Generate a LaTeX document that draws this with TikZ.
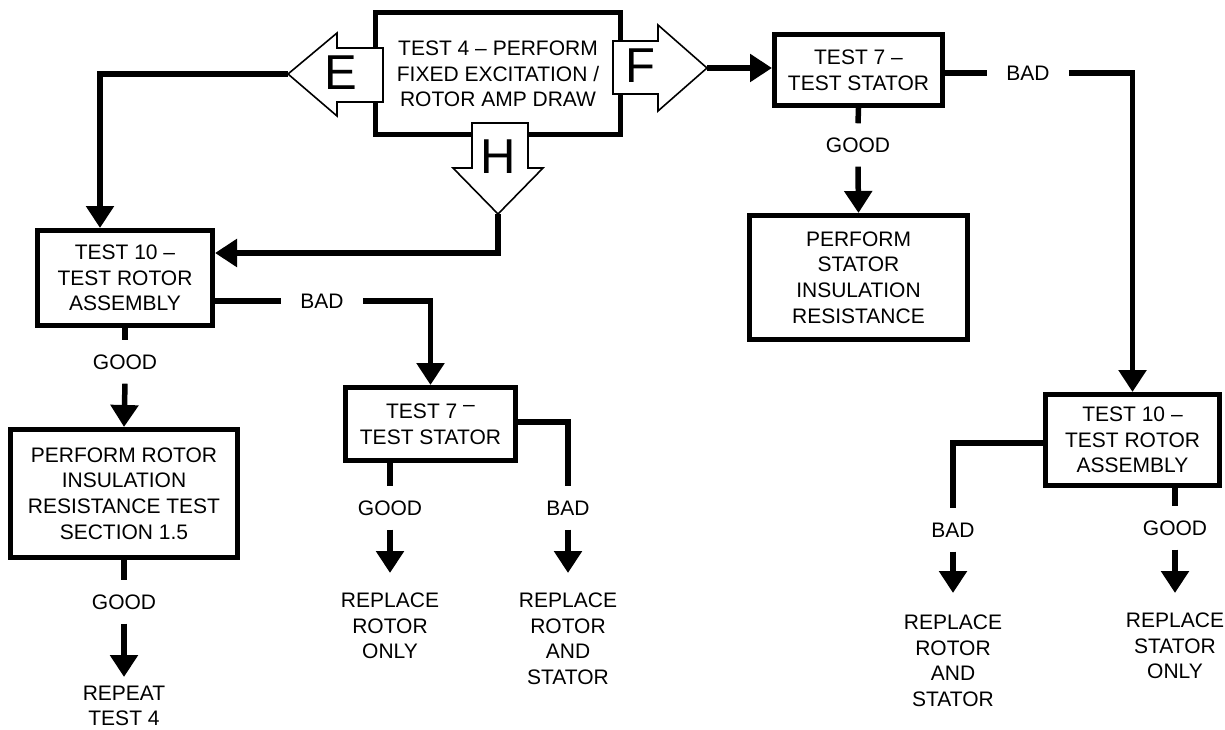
\documentclass[tikz,border=0pt]{standalone}
\usepackage{fontspec}
\setmainfont{Liberation Sans}
\usetikzlibrary{arrows.meta}
\tikzset{
  every node/.style={font=\fontsize{21}{25.7}\selectfont},
  box/.style={draw, line width=5pt, fill=white, align=center, inner sep=0pt},
  conn/.style={line width=5.5pt, line join=miter},
  arr/.style={conn, -{Triangle[width=27pt,length=22pt]}},
  lbl/.style={inner xsep=19pt, inner ysep=14pt, text height=15pt, text depth=0pt},
  res/.style={align=center, inner xsep=0pt, anchor=north},
  bigarrow/.style={draw, line width=1.6pt, fill=white, line join=miter},
  bigletter/.style={font=\fontsize{49}{49}\selectfont, inner sep=0pt},
}
\begin{document}
\begin{tikzpicture}[x=1pt,y=-1pt]
\useasboundingbox[fill=white] (0,0) rectangle (1225,730);
% boxes
\node[box, minimum width=245pt, minimum height=122pt] (t4) at (498,74) {TEST 4 – PERFORM\\FIXED EXCITATION /\\ROTOR AMP DRAW};
\node[box, minimum width=175pt, minimum height=95pt] (t10L) at (125,278) {TEST 10 –\\TEST ROTOR\\ASSEMBLY};
\node[box, minimum width=227pt, minimum height=128pt] (rins) at (124,493.5) {PERFORM ROTOR\\INSULATION\\RESISTANCE TEST\\SECTION 1.5};
\node[box, minimum width=170pt, minimum height=73pt] (t7M) at (430.5,424) {TEST 7 \raisebox{7pt}{–}\\TEST STATOR};
\node[box, minimum width=168pt, minimum height=71pt] (t7R) at (858.5,70) {TEST 7 –\\TEST STATOR};
\node[box, minimum width=218pt, minimum height=124pt] (sins) at (858.5,277.5) {PERFORM\\STATOR\\INSULATION\\RESISTANCE};
\node[box, minimum width=174pt, minimum height=91pt] (t10R) at (1132.5,440) {TEST 10 –\\TEST ROTOR\\ASSEMBLY};
% open arrows E, F, H
\draw[bigarrow] (383,48) -- (337,48) -- (337,33) -- (288,74) -- (337,116) -- (337,102) -- (383,102) -- cycle;
\coordinate (Etip) at (288,74);
\node[bigletter] (E) at (341,73) {E};
\draw[bigarrow] (613,41) -- (658,41) -- (658,25) -- (707,68) -- (658,111) -- (658,94) -- (613,94) -- cycle;
\coordinate (Ftip) at (707,68);
\node[bigletter] (F) at (640,66) {F};
\draw[bigarrow] (472,123) -- (528,123) -- (528,168) -- (543,168) -- (498,214) -- (453,168) -- (472,168) -- cycle;
\coordinate (Htip) at (498,214);
\node[bigletter] (H) at (498,157) {H};
% labels
\node[lbl] (good1) at (125,362) {GOOD};
\node[lbl] (bad1) at (322,301) {BAD};
\node[lbl] (good2) at (124,602) {GOOD};
\node[lbl] (good3) at (390,508) {GOOD};
\node[lbl] (bad2) at (568,508) {BAD};
\node[lbl] (good4) at (858,145) {GOOD};
\node[lbl] (bad3) at (1028,73) {BAD};
\node[lbl] (bad4) at (953,530) {BAD};
\node[lbl] (good5) at (1175,528) {GOOD};
% results
\node[res, inner ysep=8.5pt] (rep) at (124,677) {REPEAT\\TEST 4};
\node[res, inner ysep=19.5pt] (r1) at (390,573) {REPLACE\\ROTOR\\ONLY};
\node[res, inner ysep=19.5pt] (r2) at (568,573) {REPLACE\\ROTOR\\AND\\STATOR};
\node[res, inner ysep=21.5pt] (r3) at (953,593) {REPLACE\\ROTOR\\AND\\STATOR};
\node[res, inner ysep=19.5pt] (r4) at (1175,593) {REPLACE\\STATOR\\ONLY};
% corner coordinates
\coordinate (ecorner) at (100,74);
\coordinate (hcorner) at (498,253);
\coordinate (m7corner) at (568,422);
\coordinate (r10corner) at (953,443);
% connectors
\draw[arr] (Etip) -- (ecorner) -- (ecorner |- t10L.north);
\draw[arr] (Ftip) -- (Ftip -| t7R.west);
\draw[arr] (Htip) -- (hcorner) -- (hcorner -| t10L.east);
\draw[conn] (t10L.east |- bad1) -- (bad1.west);
\draw[arr] (bad1.east) -| (t7M.north);
\draw[conn] (t10L.south) -- (good1.north);
\draw[arr] (good1.south) -- (rins.north);
\draw[conn] (rins.south) -- (good2.north);
\draw[arr] (good2.south) -- (rep.north);
\draw[conn] (t7M.south -| good3) -- (good3.north);
\draw[arr] (good3.south) -- (r1.north);
\draw[conn] (t7M.east |- m7corner) -- (m7corner) -- (bad2.north);
\draw[arr] (bad2.south) -- (r2.north);
\draw[conn] (t7R.south) -- (good4.north);
\draw[arr] (good4.south) -- (sins.north);
\draw[conn] (t7R.east |- bad3) -- (bad3.west);
\draw[arr] (bad3.east) -| (t10R.north);
\draw[conn] (t10R.west |- r10corner) -- (r10corner) -- (bad4.north);
\draw[arr] (bad4.south) -- (r3.north);
\draw[conn] (t10R.south -| good5) -- (good5.north);
\draw[arr] (good5.south) -- (r4.north);
\end{tikzpicture}
\end{document}
